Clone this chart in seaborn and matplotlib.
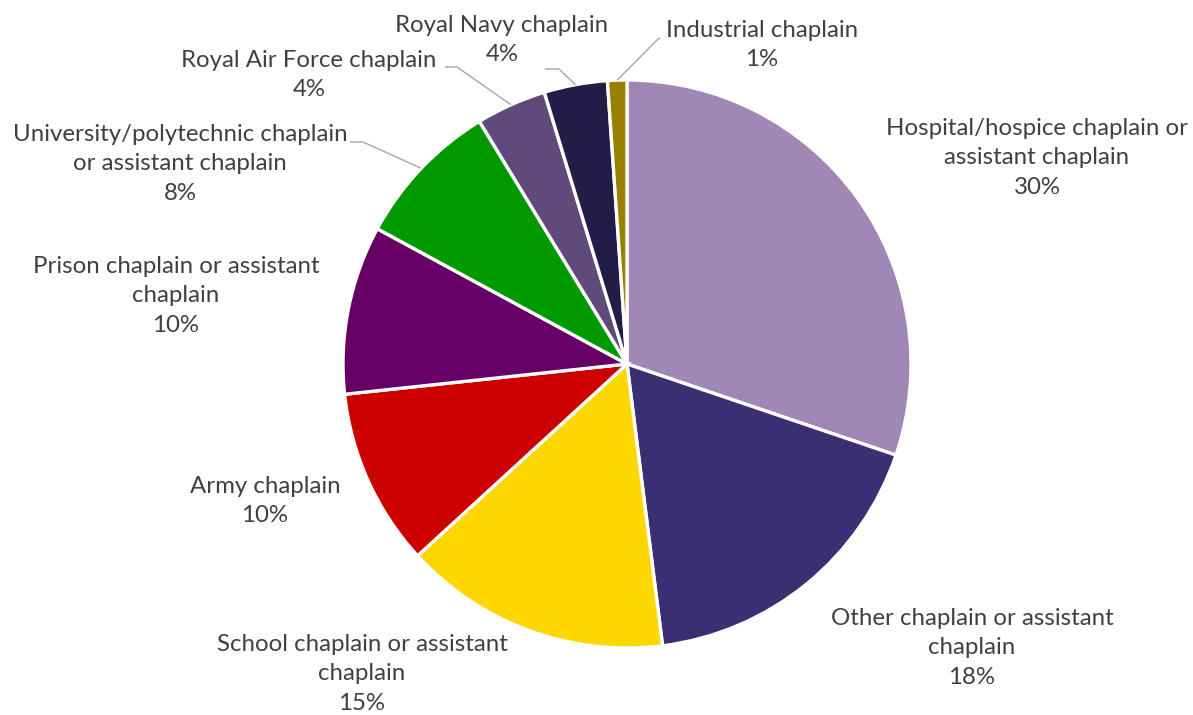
import numpy as np
import matplotlib
matplotlib.use("Agg")
import matplotlib.pyplot as plt
import seaborn as sns

# Share of chaplaincy roles (percent)
categories = [
    "Hospital/hospice chaplain or\nassistant chaplain",
    "Other chaplain or assistant\nchaplain",
    "School chaplain or assistant\nchaplain",
    "Army chaplain",
    "Prison chaplain or assistant\nchaplain",
    "University/polytechnic chaplain\nor assistant chaplain",
    "Royal Air Force chaplain",
    "Royal Navy chaplain",
    "Industrial chaplain",
]
shares = [30.2, 17.8, 15.2, 10.1, 9.6, 8.4, 4.0, 3.6, 1.1]
colors = ["#A087B5", "#3A2F73", "#FFD700", "#CC0000", "#660066",
          "#009900", "#604A7B", "#221C47", "#9A8000"]

sns.set_theme(style="white")
plt.rcParams["font.family"] = ["Lato", "DejaVu Sans"]

W, H = 1193, 715
fig = plt.figure(figsize=(W / 100, H / 100), dpi=100)
ax = fig.add_axes([0, 0, 1, 1])

cx, cy, r = 627, H - 364, 284
wedges, _ = ax.pie(
    shares, colors=sns.color_palette(colors), startangle=90, counterclock=False,
    center=(cx, cy), radius=r,
    wedgeprops=dict(edgecolor="white", linewidth=2.4),
)
ax.set_xlim(0, W)
ax.set_ylim(0, H)
ax.set_aspect("equal", adjustable="box")
ax.axis("off")

text_color = "#404040"
line_color = "#A6A6A6"

# label block centres (x, y from top)
label_pos = [
    (1037, 158), (972, 648), (362, 674), (265, 501), (176, 296),
    (180, 164), (309, 75), (502, 40), (762, 45),
]
# leader lines: label anchor, elbow (y from top); end point lies on the wedge rim
leaders = {
    5: [(350, 142), (363, 142)],
    6: [(445, 67), (457, 67)],
    7: [(545, 69), (559, 69)],
    8: [(660, 38), (658, 39)],
}

for i, (name, val) in enumerate(zip(categories, shares)):
    x, y = label_pos[i]
    ax.text(x, H - y, f"{name}\n{val:.0f}%", ha="center", va="center",
            fontsize=17.3, color=text_color, linespacing=1.5)
    if i in leaders:
        w = wedges[i]
        mid = np.deg2rad((w.theta1 + w.theta2) / 2)
        ex, ey = cx + r * np.cos(mid), cy + r * np.sin(mid)
        pts = [(px, H - py) for px, py in leaders[i]] + [(ex, ey)]
        xs, ys = zip(*pts)
        ax.plot(xs, ys, color=line_color, lw=1.0, solid_capstyle="butt")

fig.savefig("out.png", dpi=100, facecolor="white")
